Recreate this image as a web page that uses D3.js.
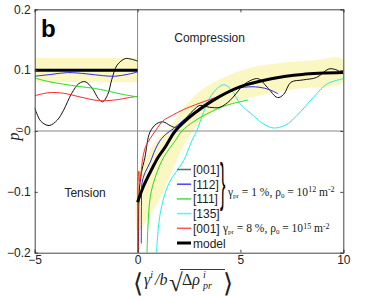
<!DOCTYPE html>
<head>
<meta charset="utf-8">
<style>
body { margin: 0; background: #fff; }
svg text { font-family: "Liberation Sans", Arial, sans-serif; fill: #222; }
.axis text { font-size: 12px; }
.axis path, .axis line { stroke: #444; }
.serif { font-family: "Liberation Serif", "Times New Roman", serif !important; }
</style>
</head>
<body>
<svg width="365" height="299"></svg>
<script src="https://cdn.jsdelivr.net/npm/d3@7"></script>
<script>

const xTicks = [-5, 0, 5, 10]
const yTicks = [-0.2, -0.1, 0, 0.1, 0.2]

// tension side (x < 0)
const tensionBlack = [[-5, 0.038], [-4.7, 0.016], [-4.3, 0.009], [-3.9, 0.018], [-3.6, 0.034], [-3.2, 0.062], [-2.85, 0.078], [-2.55, 0.081], [-2.2, 0.07], [-1.9, 0.053], [-1.7, 0.048], [-1.45, 0.06], [-1.25, 0.085], [-1.0, 0.108], [-0.6, 0.119], [-0.3, 0.118], [0, 0.115]]
const tensionBlue = [[-5, 0.09], [-4.2, 0.093], [-3.4, 0.096], [-2.5, 0.094], [-1.7, 0.091], [-1.1, 0.09], [-0.5, 0.093], [0, 0.097]]
const tensionGreen = [[-5, 0.087], [-4.3, 0.081], [-3.6, 0.077], [-2.8, 0.073], [-2.1, 0.07], [-1.5, 0.066], [-0.7, 0.06], [0, 0.056]]
const tensionRed = [[-5, 0.058], [-4.3, 0.063], [-3.6, 0.062], [-2.8, 0.056], [-1.9, 0.05], [-1.1, 0.051], [-0.4, 0.055], [0, 0.057]]
const tensionModel = [[-5, 0.1], [0, 0.1]]
const tensionBand = [[-5, 0.08, 0.12], [0, 0.08, 0.12]]

// compression side (x > 0)
const compBlack = [[0.05, -0.2], [0.05, -0.15], [0.08, -0.1], [0.18, -0.07], [0.36, -0.043], [0.6, -0.002], [0.93, 0.012], [1.25, 0.015], [1.58, 0.009], [1.85, 0.006], [2.2, 0.016], [2.71, 0.034], [3.03, 0.042], [3.5, 0.039], [4.0, 0.039], [4.49, 0.05], [4.8, 0.062], [5.2, 0.077], [5.85, 0.086], [6.3, 0.072], [6.8, 0.055], [7.1, 0.06], [7.45, 0.08], [8.05, 0.084], [8.7, 0.088], [9.3, 0.102], [9.7, 0.1], [10, 0.094]]
const compBlue = [[0.18, -0.185], [0.19, -0.12], [0.22, -0.085], [0.37, -0.068], [0.62, -0.051], [0.8, -0.035], [1.05, -0.018], [1.35, -0.006], [1.75, 0.004], [2.3, 0.02], [2.87, 0.034], [3.3, 0.045], [3.85, 0.055], [4.5, 0.066], [5.2, 0.072], [5.9, 0.072], [6.4, 0.068], [6.84, 0.061]]
const compGreen = [[0.46, -0.2], [0.5, -0.16], [0.62, -0.108], [0.86, -0.076], [1.27, -0.043], [1.83, -0.016], [2.16, 0.0], [2.7, 0.015], [3.36, 0.028], [4.3, 0.042], [5.38, 0.051]]
const compCyan = [[0.92, -0.2], [1.1, -0.136], [1.51, -0.087], [2.25, -0.048], [2.64, -0.016], [2.87, 0.0], [3.2, 0.03], [3.52, 0.055], [3.9, 0.071], [4.22, 0.076], [4.6, 0.066], [4.98, 0.045], [5.63, 0.025], [6.1, 0.012], [6.6, 0.005], [7.2, 0.01], [7.73, 0.025], [8.54, 0.055], [9.19, 0.077], [10, 0.086]]
const compRed = [[0.02, -0.2], [0.02, -0.12], [0.03, -0.075], [0.06, -0.066], [0.1, -0.083], [0.16, -0.072], [0.25, -0.045], [0.4, -0.025], [0.62, -0.012], [0.9, 0.002], [1.25, 0.017], [1.7, 0.026], [2.22, 0.035], [2.8, 0.043], [3.36, 0.05], [4.05, 0.058]]
const compModel = [[0, -0.117], [0.3, -0.09], [0.7, -0.062], [1.0, -0.043], [1.35, -0.026], [1.83, 0.0], [2.5, 0.022], [3.2, 0.04], [4, 0.057], [5, 0.073], [6.5, 0.086], [8, 0.093], [10, 0.096]]
const bandUpper = [[0, -0.075], [0.3, -0.05], [0.7, -0.025], [1.0, -0.012], [1.5, 0.003], [2.2, 0.037], [3.2, 0.07], [4.5, 0.093], [5.5, 0.104], [7, 0.112], [8.5, 0.116], [10, 0.118]]
const bandLower = [[0, -0.165], [0.3, -0.155], [0.55, -0.141], [0.86, -0.125], [1.27, -0.098], [1.83, -0.054], [2.3, -0.02], [2.8, 0.005], [3.2, 0.02], [4.5, 0.045], [5.5, 0.055], [7.7, 0.069], [10, 0.08]]

const legendItems = [
  {label: '[001]', color: '#666', width: 1.5},
  {label: '[112]', color: '#4444ff', width: 1.5},
  {label: '[111]', color: '#44dd44', width: 1.5},
  {label: '[135]', color: '#55f5f5', width: 1.5},
  {label: '[001]', color: '#ff5555', width: 1.5},
  {label: 'model', color: '#000', width: 3}
]

const svg = d3.select('svg')
const x = d3.scaleLinear().domain([-5, 10]).range([34.7, 343.3])
const y = d3.scaleLinear().domain([-0.2, 0.2]).range([252.7, 9.3])

svg.append('clipPath').attr('id', 'plot')
  .append('rect')
  .attr('x', x(-5)).attr('y', y(0.2))
  .attr('width', x(10) - x(-5)).attr('height', y(-0.2) - y(0.2))

const plot = svg.append('g').attr('clip-path', 'url(#plot)')

// yellow bands
const bandArea = d3.area().x(d => x(d[0])).y0(d => y(d[1])).y1(d => y(d[2]))
plot.append('path').datum(tensionBand).attr('d', bandArea).attr('fill', '#fbf7c2')

const bandPoly = bandUpper.concat(bandLower.slice().reverse())
plot.append('path')
  .datum(bandPoly)
  .attr('d', d3.line().x(d => x(d[0])).y(d => y(d[1])).curve(d3.curveCatmullRomClosed.alpha(0.5)))
  .attr('fill', '#fbf7c2')

// zero lines
plot.append('line').attr('x1', x(-5)).attr('x2', x(10)).attr('y1', y(0)).attr('y2', y(0))
  .attr('stroke', '#888').attr('stroke-width', 1)
plot.append('line').attr('x1', x(0)).attr('x2', x(0)).attr('y1', y(0.2)).attr('y2', y(-0.2))
  .attr('stroke', '#888').attr('stroke-width', 1)

const line = d3.line().x(d => x(d[0])).y(d => y(d[1])).curve(d3.curveCatmullRom.alpha(0.5))

const series = [
  {data: tensionBlack, color: '#111', w: 1},
  {data: tensionRed, color: '#ff2a2a', w: 1},
  {data: tensionGreen, color: '#22dd22', w: 1},
  {data: tensionBlue, color: '#2a2aff', w: 1},
  {data: tensionModel, color: '#000', w: 3},
  {data: compCyan, color: '#22eeee', w: 1},
  {data: compGreen, color: '#22dd22', w: 1},
  {data: compBlack, color: '#111', w: 1},
  {data: compBlue, color: '#2a2aff', w: 1},
  {data: compRed, color: '#ff2a2a', w: 1},
  {data: compModel, color: '#000', w: 3}
]

plot.selectAll('path.series')
  .data(series)
  .enter()
  .append('path')
    .attr('class', 'series')
    .attr('d', d => line(d.data))
    .attr('fill', 'none')
    .attr('stroke', d => d.color)
    .attr('stroke-width', d => d.w)

// frame and axes
svg.append('g').attr('class', 'axis')
  .attr('transform', `translate(${x(-5)},0)`)
  .call(d3.axisLeft(y).tickValues(yTicks).tickSize(-3).tickPadding(4).tickFormat(d => d3.format('.1~f')(d).replace('-', '\u2212')))
svg.append('g').attr('class', 'axis')
  .attr('transform', `translate(0,${y(-0.2)})`)
  .call(d3.axisBottom(x).tickValues(xTicks).tickSize(-3).tickPadding(3).tickFormat(d => String(d).replace('-', '\u2212')))
svg.append('g').attr('class', 'axis')
  .attr('transform', `translate(${x(10)},0)`)
  .call(d3.axisRight(y).tickValues(yTicks).tickSize(-3).tickFormat(''))
svg.append('g').attr('class', 'axis')
  .attr('transform', `translate(0,${y(0.2)})`)
  .call(d3.axisTop(x).tickValues(xTicks).tickSize(-3).tickFormat(''))
svg.selectAll('.axis .domain').attr('stroke', '#444')

// annotations
svg.append('text').attr('x', 41).attr('y', 37).style('font-size', '24px').style('font-weight', 'bold').style('fill', '#000').text('b')
svg.append('text').attr('x', x(3.5)).attr('y', 42).attr('text-anchor', 'middle').style('font-size', '12px').text('Compression')
svg.append('text').attr('x', x(-2.55)).attr('y', 197).attr('text-anchor', 'middle').style('font-size', '12px').text('Tension')

// y label
const yl = svg.append('text').attr('class', 'serif')
  .attr('transform', 'translate(19,134) rotate(-90)')
  .attr('text-anchor', 'middle')
  .style('font-size', '16px').style('font-style', 'italic')
yl.append('tspan').text('p')
yl.append('tspan').attr('dy', 4).style('font-size', '10px').text('0')

// x label
const xl = svg.append('g').attr('class', 'xlabel')
xl.append('text').attr('x', 133).attr('y', 292).style('font-family', 'DejaVu Sans').style('font-size', '26px').style('font-weight', '200').text('\u27E8')
const xt = xl.append('text').attr('class', 'serif').attr('x', 144).attr('y', 285).style('font-size', '16px').style('font-style', 'italic')
xt.append('tspan').text('\u03B3')
xt.append('tspan').attr('dy', -7).style('font-size', '10px').text('i')
xt.append('tspan').attr('dy', 7).attr('dx', 2).text('/b')
xl.append('text').attr('class', 'serif').attr('x', 169).attr('y', 291).style('font-size', '25px').text('\u221A')
xl.append('line').attr('x1', 180).attr('x2', 225).attr('y1', 269.5).attr('y2', 269.5).attr('stroke', '#222').attr('stroke-width', 0.9)
const xr = xl.append('text').attr('class', 'serif').attr('x', 182).attr('y', 285).style('font-size', '16px')
xr.append('tspan').text('\u0394')
xr.append('tspan').style('font-style', 'italic').text('\u03C1')
xl.append('text').attr('class', 'serif').attr('x', 203).attr('y', 278).style('font-size', '10px').style('font-style', 'italic').text('i')
xl.append('text').attr('class', 'serif').attr('x', 203).attr('y', 289).style('font-size', '10px').style('font-style', 'italic').text('pr')
xl.append('text').attr('x', 223).attr('y', 292).style('font-family', 'DejaVu Sans').style('font-size', '26px').style('font-weight', '200').text('\u27E9')

// legend
const legendY = d3.scaleLinear().domain([0, 5]).range([169.5, 243])
const legend = svg.append('g')
legendItems.forEach((item, i) => {
  legend.append('line')
    .attr('x1', 177).attr('x2', 191)
    .attr('y1', legendY(i)).attr('y2', legendY(i))
    .attr('stroke', item.color).attr('stroke-width', item.width)
  legend.append('text')
    .attr('x', 193).attr('y', legendY(i) + 4.5)
    .style('font-size', '12px')
    .text(item.label)
})

legend.append('text')
  .attr('transform', `translate(220,${legendY(1.5) + 6}) scale(0.8,2.6)`)
  .style('font-size', '20px')
  .attr('dy', '0.05em')
  .style('fill', '#000')
  .text('}')

function paramText(g, px, py, pct, exp) {
  const t = g.append('text').attr('class', 'serif').attr('x', px).attr('y', py).style('font-size', '11.5px')
  t.append('tspan').text('\u03B3')
  t.append('tspan').attr('dy', 2).style('font-size', '7px').text('pr')
  t.append('tspan').attr('dy', -2).text(` = ${pct} %, \u03C1`)
  t.append('tspan').attr('dy', 2).style('font-size', '7px').text('0')
  t.append('tspan').attr('dy', -2).text(' = 10')
  t.append('tspan').attr('dy', -3.5).style('font-size', '8px').text(exp)
  t.append('tspan').attr('dy', 3.5).text(' m')
  t.append('tspan').attr('dy', -3.5).style('font-size', '8px').text('-2')
}
paramText(legend, 228, legendY(1.5) + 4, 1, '12')
paramText(legend, 223, legendY(4) + 4, 8, '15')

</script>
</body>
